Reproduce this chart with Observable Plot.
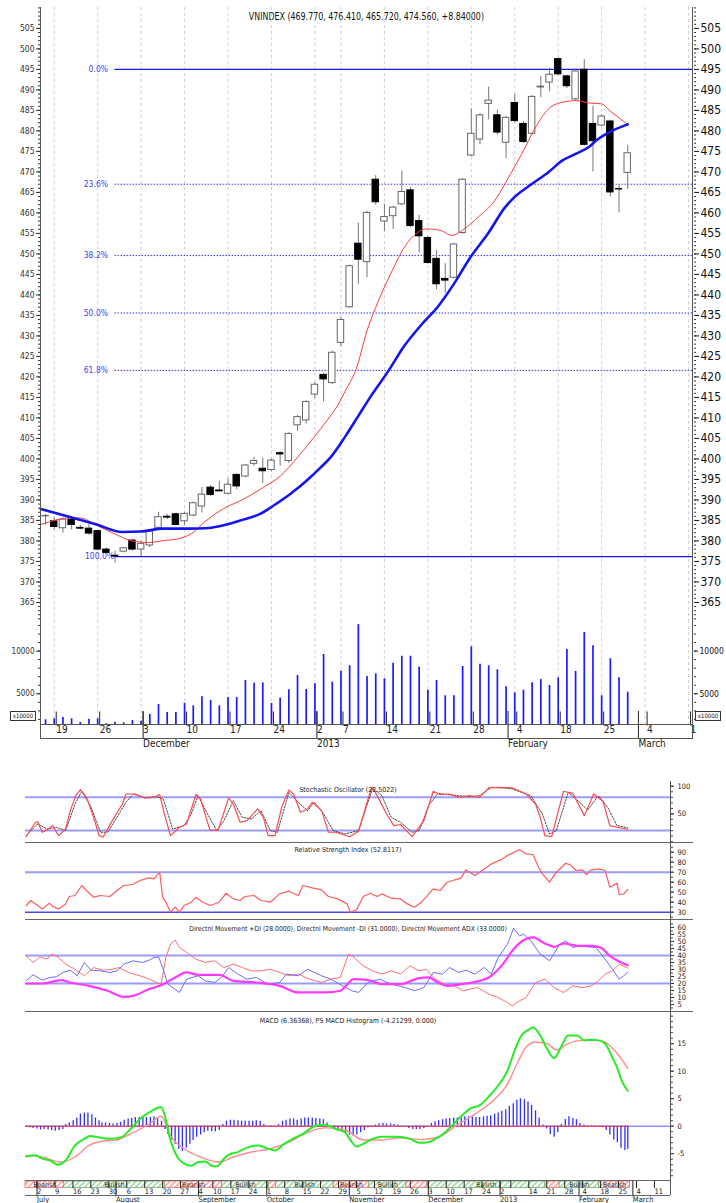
<!DOCTYPE html>
<html><head><meta charset="utf-8">
<script src="https://cdn.jsdelivr.net/npm/d3@7"></script>
<script src="https://cdn.jsdelivr.net/npm/@observablehq/plot@0.6"></script>
<style>
body{margin:0;background:#fff;}
#root{position:relative;width:726px;height:1203px;overflow:hidden;background:#fff;
 font-family:"Liberation Sans Narrow","DejaVu Sans Condensed","Liberation Sans",sans-serif;}
.hl{position:absolute;height:1px;background:#555;}
.vl{position:absolute;width:1px;background:#555;}
.box{position:absolute;border:1px solid #333;font-size:6px;line-height:8px;text-align:center;background:#fff;color:#111;}
#title{position:absolute;top:10px;left:0;width:733px;text-align:center;font-size:11px;color:#111;transform:scaleX(0.8);transform-origin:366px 0;}
</style></head><body><div id="root"><div id="title"></div></div>
<script>
// ---------------- DATA ----------------
const titleText = "VNINDEX (469.770, 476.410, 465.720, 474.560, +8.84000)";
// trading-day index 0 = 16 Nov 2012 ... 67 = 28 Feb 2013
const opens  = [386.0,384.8,383.1,385.2,383.2,383.0,382.4,377.9,376.4,377.4,380.1,377.9,378.9,383.2,385.9,386.5,384.8,386.2,388.4,393.0,392.3,391.5,396.1,395.7,398.8,397.6,397.3,401.4,399.5,408.2,409.4,415.7,420.5,418.5,428.3,437.0,452.5,448.0,468.1,457.9,459.2,462.1,465.5,458.0,453.9,448.8,443.9,444.2,455.1,474.0,477.9,486.6,483.8,477.1,486.8,481.7,479.3,490.6,491.8,497.5,493.3,487.7,494.9,481.7,481.3,482.3,465.8,469.77];
const highs  = [386.4,385.8,385.6,385.7,383.8,384.2,382.6,378.3,377.5,378.5,380.4,380.0,382.6,387.0,386.5,386.8,387.0,389.5,393.1,393.5,394.6,395.2,396.4,398.7,400.4,400.2,400.0,401.8,406.4,410.6,414.2,418.7,420.9,426.3,434.6,447.3,457.5,460.4,469.1,462.1,461.6,470.2,466.2,459.4,454.2,450.8,447.6,452.6,468.4,485.4,484.2,490.7,485.1,483.5,488.9,482.3,488.6,493.3,495.3,497.8,493.6,495.1,497.4,486.0,484.0,482.6,466.8,476.41];
const lows   = [383.8,382.7,381.9,382.7,382.7,381.4,377.6,376.8,374.6,377.1,377.5,376.2,378.4,382.9,385.2,383.6,383.8,385.9,386.8,390.8,392.0,391.3,392.5,395.4,398.2,394.1,397.0,398.2,398.9,406.7,408.5,414.7,413.9,418.2,427.3,436.7,442.6,444.2,461.9,455.5,456.0,461.8,456.4,450.2,447.5,441.3,440.4,443.9,454.8,473.7,476.6,482.7,479.0,473.2,482.0,477.0,479.0,488.1,489.5,493.5,490.3,487.4,476.3,470.0,481.0,463.9,460.0,465.72];
const closes = [386.1,383.4,385.2,383.9,383.0,381.8,377.9,377.1,376.2,378.2,377.9,379.3,382.3,385.8,385.7,383.9,386.6,389.2,391.3,391.2,392.1,393.7,393.3,398.4,399.5,397.0,399.6,401.1,406.1,410.2,413.9,418.1,419.4,425.9,433.9,447.0,448.6,460.0,462.6,459.0,461.3,465.1,456.8,454.3,447.8,442.6,443.5,452.3,468.1,479.3,483.8,487.4,479.6,483.2,482.4,477.3,488.3,490.8,493.7,493.8,490.9,494.5,476.6,477.5,483.5,465.0,465.72,474.56];
const volumes = [1955,2072,2225,2072,1639,2033,2072,1487,1680,1600,1870,1800,2576,3747,2810,2810,3900,3590,4650,4220,3590,4570,4570,6560,6240,6280,3860,4490,5470,7140,5510,6170,9600,6360,7650,8280,13100,7030,7340,6760,8590,9400,9400,8120,5420,6560,4770,4770,8200,10500,8470,8280,7810,5820,5120,5420,6280,6680,5970,6870,10190,7610,12180,10620,4770,9100,6870,5190];
// moving averages: [index, value]
const maRed = [[-0.55,384.0],[2.9,385.6],[4,385.6],[5.9,383.8],[7.9,381.8],[9.8,380.1],[11.9,379.6],[13.6,380.1],[15.2,380.5],[16.8,381.8],[18.4,384.8],[20.5,387.9],[22.7,390.1],[25.1,393.1],[27,395.8],[29,400.4],[30.9,405.3],[32.4,409.4],[33.6,413],[34.6,417],[35.7,421.6],[37,431.3],[38.5,439.5],[40.1,446.8],[41.2,451.3],[42.4,454.5],[43.9,456.1],[45.5,455.7],[46.8,454.5],[48.1,456],[49.8,459],[51.7,463],[53.3,468.7],[54.8,474.4],[56.4,480.9],[57.9,485.4],[59.5,487],[61,487.4],[62.6,486.8],[64,486.6],[64.9,485],[66.1,483],[67,481.6]];
const maBlue = [[-0.55,387.8],[2.9,385.8],[5.9,384.0],[8.8,382.2],[10.9,382.3],[13.6,383.0],[16.7,383.0],[18.4,383.1],[20,383.6],[22.4,385.0],[24.7,386.6],[26.3,388.7],[28.2,391.5],[30.1,394.8],[31.7,398],[32.8,400.4],[34.5,405.5],[36,410.5],[37.5,415.5],[39.5,421.6],[41.2,427.3],[43.2,432.6],[45.1,437],[47,442.7],[48.9,449.2],[50.9,454.9],[52.9,461.4],[54,463.9],[56,467.1],[57.9,470],[59.5,472.8],[61,474.4],[62.6,476.2],[63.4,477.7],[64.9,479.7],[67,481.6]];
const fibLabels = ["0.0%","23.6%","38.2%","50.0%","61.8%","100.0%"];
const fibValues = [495.0,467.0,449.6,435.6,421.6,376.2];
const fibAnchor = 8;
const topTickIdx = [1,6,11,16,21,26,31,34,39,44,49,54,59,64,69,74];
const topTickLabels = ["19","26","3","10","17","24","2","7","14","21","28","4","18","25","4","1"];
const topMonthIdx = [11,31,53,68];
const topMonthLabels = ["December","2013","February","March"];

// lower panels: trading-day index 0 = 2 Jul 2012 ... 165 = 28 Feb 2013
const stochK = [[-2.6,9],[0,35],[0.6,36],[1.9,17],[3.2,21],[4.8,29],[6.4,11],[8.4,23],[9.7,56],[11.2,83],[12.5,94],[14.2,80],[16.2,44],[17.7,11],[18.8,8],[21.4,38],[24.2,68],[25.2,86],[27.8,86],[30.4,79],[33.0,80],[34.6,85],[35.9,50],[37.6,11],[40.1,26],[42.1,32],[44.7,85],[46.0,77],[48.6,21],[50.9,21],[53.8,79],[55.1,68],[57.0,35],[58.9,38],[61.9,59],[63.5,44],[64.8,11],[66.7,11],[68.7,65],[70.6,93],[71.9,86],[73.8,53],[75.8,59],[77.1,71],[79.7,56],[81.6,17],[83.6,17],[87.5,9],[90.0,19],[93.3,91],[93.9,98],[95.9,74],[97.8,50],[99.8,29],[101.7,31],[104.9,9],[108.2,38],[110.8,91],[112.7,85],[115.3,86],[117.9,80],[121.1,83],[123.7,80],[126.3,97],[128.9,98],[132.8,97],[136.7,86],[139.3,68],[140.6,44],[141.9,11],[143.8,9],[147.1,91],[149.7,87],[152.9,47],[155.5,86],[158.1,73],[160.0,29],[162.0,26],[165,22.5]];
const stochD = [[-2.6,11],[0.6,32],[3.2,23],[5.8,26],[8.4,20],[11.0,68],[12.9,91],[15.5,62],[18.1,17],[20.1,17],[22.7,44],[25.2,71],[27.2,86],[30.4,79],[33.7,81],[35.6,77],[38.2,23],[41.4,29],[43.4,50],[45.3,83],[47.9,50],[50.5,20],[52.5,38],[55.1,74],[57.6,44],[60.2,41],[62.8,56],[65.4,20],[67.4,17],[70.6,89],[73.2,71],[75.8,56],[77.7,71],[80.3,50],[82.9,20],[86.2,14],[90.0,20],[93.9,96],[96.5,83],[99.1,44],[101.7,35],[104.9,17],[106.9,20],[109.5,65],[112.1,87],[114.7,85],[117.9,83],[121.1,81],[123.7,83],[127.0,98],[130.2,97],[132.8,95],[138.0,83],[141.2,50],[143.2,14],[145.1,20],[148.4,89],[151.6,71],[153.8,57],[156.8,83],[159.4,62],[162.0,29],[165,25]];
const rsi = [[-2.6,36.7],[-1.3,41.7],[0.6,36.7],[1.9,33.3],[3.9,39],[4.8,35.7],[6.4,33.3],[8.4,38.3],[9.4,45.7],[11.0,46.7],[12.9,56.7],[14.2,51.7],[16.2,45],[18.1,46.7],[20.7,45.7],[22.7,51.7],[24.6,56.7],[27.2,57.7],[29.1,61.7],[31.7,64.3],[33.0,63.3],[34.6,70],[35.4,45],[36.3,40],[37.6,30],[38.9,35],[40.1,30],[41.4,36.7],[43.4,40],[44.7,45],[46.6,40],[48.6,36.7],[51.2,40],[53.1,49],[55.1,43.3],[57.0,41.7],[58.3,45.7],[60.9,46.7],[62.8,41.7],[65.4,40],[68.0,48.3],[70.6,51],[73.2,46.7],[74.5,56.7],[77.1,54.3],[79.7,52.3],[81.6,45.7],[84.2,43.3],[86.8,38.3],[87.7,30],[89.4,32.3],[91.3,45.7],[93.3,49],[95.2,45.7],[96.5,48.3],[99.1,44],[101.7,43.3],[103.6,38.3],[105.6,35],[107.5,40],[108.8,45],[110.8,53.3],[112.7,51.7],[114.7,60],[118.6,64.3],[119.9,72.3],[122.4,66.7],[124.4,71.7],[127.0,78.3],[129.6,82.3],[131.5,86.7],[134.8,92.7],[136.7,88.3],[138.6,87.7],[139.9,76.7],[141.2,68.3],[143.2,60],[145.1,70],[147.7,79],[149.0,77.3],[150.6,71.7],[152.3,72.3],[153.5,67.7],[154.8,72.3],[156.8,73.3],[158.7,71.7],[160.0,55],[162.0,59],[162.6,47.7],[163.9,48.3],[165,52.8]];
const plusDI = [[-2.6,21.9],[-0.7,26.2],[1.9,22.4],[3.9,24.3],[5.8,24.8],[7.7,27.9],[9.7,29.5],[11.6,25.5],[13.6,35],[15.5,29.5],[18.1,29],[20.7,27.9],[22.7,29],[24.6,33.8],[27.2,36.2],[29.8,35],[31.7,36.7],[33.0,38.6],[34.3,39],[35.4,31.4],[36.9,19.5],[40.1,13.6],[42.1,23.1],[45.3,25.5],[47.3,21.9],[49.9,20.7],[51.8,24.3],[53.8,31.4],[56.4,26.7],[58.9,23.1],[61.5,24.3],[64.8,19.5],[68.0,20.7],[69.9,26.7],[73.2,25.5],[75.8,30.2],[79.7,25.5],[82.3,23.1],[85.5,18.3],[88.1,14.8],[90.0,13.6],[92.6,20.7],[95.9,23.1],[99.1,19.5],[103.0,17.1],[105.6,14.8],[108.2,17.1],[110.8,27.9],[113.4,26.7],[115.3,31.4],[117.9,27.9],[119.9,29.5],[122.4,26.7],[125.0,31.4],[127.0,26.7],[128.9,38.6],[130.2,43.3],[131.5,48.1],[133.2,59.5],[134.8,54],[136.0,55.2],[138.0,50.5],[140.6,41],[143.2,36.2],[145.8,46.9],[147.7,50.5],[149.7,45.7],[151.6,46.9],[153.5,46.2],[156.1,45.7],[158.7,37.4],[160.7,30.2],[162.6,23.1],[163.9,25.5],[165,28]];
const minusDI = [[-2.6,39.8],[-0.7,35],[1.3,39],[3.2,37.4],[4.5,41],[6.4,38.6],[8.4,33.8],[11.0,30.2],[13.6,25.5],[16.2,31.4],[18.8,29.5],[21.4,30.2],[23.3,31.4],[25.9,27.9],[29.1,25.5],[31.7,23.1],[33.7,20.7],[35.0,19.5],[36.3,38.6],[37.6,48.1],[38.9,51],[40.1,45.7],[42.1,42.1],[44.7,37.4],[47.3,35],[49.9,36.2],[52.5,31.4],[55.1,33.8],[57.6,31.4],[60.2,29],[62.8,29],[65.4,30.2],[68.0,27.9],[70.6,25.5],[73.2,26.7],[76.4,23.1],[79.7,20.7],[82.3,23.1],[84.9,24.3],[87.2,41],[88.7,38.6],[91.3,32.6],[93.9,29],[96.5,26.7],[99.1,29],[101.7,26.7],[104.3,32.6],[106.9,29],[108.8,30.2],[111.4,23.1],[114.0,19.5],[116.6,18.3],[119.2,14.8],[121.1,16],[123.1,17.1],[126.3,12.4],[128.9,10],[131.5,6.4],[132.8,4.0],[134.8,7.6],[136.7,10],[139.3,20.7],[141.9,23.1],[144.5,17.1],[147.1,13.6],[149.7,18.3],[152.3,17.1],[154.8,18.3],[156.8,21.9],[158.7,26.7],[160.7,29],[162.6,33.8],[165,31]];
const adx = [[-2.6,20],[1.9,20],[7.1,22.4],[9.7,20.7],[14.9,18.3],[20.1,14.8],[24.6,10.5],[27.2,11.2],[31.7,16],[35.6,19.5],[38.9,24.3],[42.1,27.9],[45.3,26.2],[51.2,26.2],[55.1,21.9],[61.5,20.7],[68.0,18.3],[73.2,13.6],[81.0,13.6],[84.9,14.8],[88.7,23.1],[92.6,22.4],[96.5,19.5],[101.7,19.5],[106.9,23.8],[109.5,24.3],[112.1,20.7],[114.7,18.3],[118.6,19.5],[123.7,21.9],[126.3,24.3],[130.2,33.8],[132.8,43.3],[135.4,50],[138.6,52.9],[141.9,48.6],[144.5,46.2],[147.1,48.6],[150.9,46.9],[154.8,46.9],[157.4,45.7],[160.0,39.8],[162.6,35.7],[165,33]];
const macd = [[-2.6,-5.5],[0,-5.3],[1.9,-5.9],[3.9,-6.2],[6.4,-7.0],[8.4,-6.2],[11.0,-3.5],[13.6,-2.3],[15.1,-1.8],[17.5,-2.0],[20.7,-2.3],[23.9,-2.0],[26.5,-0.5],[29.1,1.3],[31.7,2.5],[35.0,3.5],[35.9,2.2],[37.6,-2.6],[39.5,-5.6],[41.4,-6.8],[43.4,-7.2],[45.3,-6.5],[47.3,-6.4],[49.2,-7.2],[50.5,-7.3],[52.5,-5.9],[53.8,-5.2],[56.4,-4.7],[58.9,-3.9],[62.2,-3.5],[64.8,-4.1],[66.7,-4.4],[69.3,-3.2],[71.9,-2.2],[74.5,-1.4],[77.1,-0.2],[79.7,0.2],[81.6,0.1],[83.6,-0.5],[86.2,-1.1],[87.5,-2.3],[89.4,-3.7],[91.3,-3.2],[93.9,-2.3],[96.5,-1.9],[100.4,-1.9],[104.3,-2.3],[106.9,-3.0],[109.5,-2.9],[111.4,-2.3],[113.4,-1.5],[116.0,0.1],[118.6,1.8],[121.1,3.2],[123.7,3.8],[126.3,5.4],[128.9,7.4],[131.5,10.1],[133.5,13.8],[135.4,16.5],[137.3,17.5],[138.6,18.0],[140.6,16.5],[142.5,14.1],[144.5,12.4],[146.4,14.4],[148.4,16.5],[150.9,16.5],[152.9,15.6],[154.8,15.7],[156.8,15.6],[158.7,15.0],[160.7,12.5],[162.0,10.7],[163.3,8.3],[165,6.4]];
const macdSignal = [[-2.6,-5.3],[1.9,-5.6],[7.1,-6.5],[11.0,-5.6],[14.9,-3.5],[18.8,-2.7],[22.7,-2.5],[26.5,-1.4],[31.7,0.4],[35.0,1.8],[37.6,-1.7],[41.4,-4.1],[46.0,-5.6],[51.2,-6.5],[55.1,-5.6],[60.2,-4.7],[65.4,-4.1],[70.6,-2.9],[75.8,-1.1],[81.0,-0.3],[86.2,-0.7],[91.3,-2.5],[96.5,-2.5],[101.7,-2.1],[106.9,-2.4],[112.1,-2.0],[117.2,0.1],[122.4,2.2],[127.6,4.7],[131.5,7.7],[134.1,11.3],[136.7,14.4],[139.3,15.3],[142.5,15.0],[145.1,13.9],[148.4,15.0],[152.3,15.6],[156.8,15.6],[158.7,15.3],[161.3,13.8],[165,10.5]];
const macdHist = [[-2.6,-0.2],[-1.6,-0.3],[-0.7,-0.4],[0.4,-0.5],[1.4,-0.7],[2.4,-0.6],[3.5,-0.7],[4.5,-0.8],[5.5,-0.9],[6.6,-0.8],[7.6,-0.6],[8.4,0.3],[9.4,0.6],[10.5,1.0],[11.5,1.5],[12.5,2.2],[13.6,2.4],[14.6,2.4],[15.7,2.1],[16.7,1.5],[17.7,1.0],[18.5,0.6],[19.5,0.6],[20.6,0.5],[21.6,0.4],[22.7,0.5],[23.7,0.7],[24.7,1.1],[25.8,1.3],[26.8,1.4],[27.8,1.6],[28.9,1.6],[29.9,1.6],[30.9,1.6],[32,1.6],[33,1.7],[34,1.5],[35.1,0.9],[36.1,-0.6],[36.9,-1.5],[37.9,-2.5],[38.9,-3.3],[39.9,-4.2],[40.9,-4.6],[42,-4.0],[43,-3.3],[43.9,-2.6],[44.9,-2.0],[46,-1.6],[47,-1.2],[48,-0.9],[49.1,-1.0],[50.1,-1.0],[51.2,-0.8],[52.2,0.3],[53.2,0.9],[54.3,1.1],[55.3,1.1],[56.4,1.0],[57.4,0.9],[58.4,0.9],[59.5,0.9],[60.5,0.9],[61.5,1.0],[62.6,0.9],[63.6,0.3],[64.6,0.05],[65.7,-0.1],[66.7,-0.2],[67.7,0.3],[68.8,0.9],[69.8,1.1],[70.9,1.3],[71.9,1.3],[72.9,1.1],[74,1.3],[75,1.5],[76,1.5],[77.1,1.5],[78.1,1.4],[79.2,1.3],[80.2,1.2],[81.2,0.6],[82.3,-0.2],[83.3,-0.4],[84.3,-0.6],[85.4,-0.8],[86.4,-1.2],[87.5,-1.6],[88.5,-1.8],[89.5,-1.6],[90.6,-1.2],[91.6,-0.8],[92.6,-0.3],[93.7,0.1],[94.7,0.2],[95.7,0.4],[96.8,0.5],[97.8,0.4],[98.9,0.4],[99.9,0.3],[100.9,0.2],[102,0.1],[103,-0.1],[104,-0.4],[105.1,-0.6],[106.1,-0.6],[107.1,-0.6],[108.2,-0.4],[109.2,0.05],[110.3,0.5],[111.3,0.8],[112.3,1.0],[113.4,1.2],[114.4,1.3],[115.4,1.4],[116.5,1.5],[117.5,1.5],[118.6,1.5],[119.6,1.7],[120.6,1.7],[121.7,1.7],[122.7,1.6],[123.7,1.6],[124.8,1.7],[125.8,1.8],[126.8,1.9],[127.9,2.2],[128.9,2.4],[129.9,2.7],[131,3.0],[132,3.6],[133.1,4.1],[134.1,4.7],[135.1,5.0],[136.2,4.8],[137.2,4.4],[138.2,3.8],[139.3,2.8],[140.3,1.5],[141.4,0.2],[142.4,-0.5],[143.4,-1.5],[144.5,-2.0],[145.5,-1.2],[146.5,0.3],[147.6,1.2],[148.6,1.7],[149.7,1.4],[150.7,1.2],[151.7,0.5],[152.8,0.2],[153.8,0.1],[154.8,0.1],[155.9,0.1],[156.9,0.05],[157.9,-0.3],[159,-0.8],[160,-1.6],[161.1,-2.5],[162.1,-3.0],[163.1,-4.0],[164.2,-4.4],[165,-4.2]];
const trendSegments = [[-2.79,8,"bear","Bearish"],[8,36,"bull","Bullish"],[36,52,"bear","Bearish"],[52,65,"bull","Bullish"],[65,67,"bear",""],[67,83,"bull","Bullish"],[83,93,"bear","Bearish"],[93,103.3,"bull","Bullish"],[103.3,109.2,"bear",""],[109.2,142,"bull","Bullish"],[142,146,"bear",""],[146,157,"bull","Bullish"],[157,165.6,"bear","Bearish"]];
const lowTickDays = [0,5,10,15,20,25,30,35,40,45,49,54,59,64,69,74,79,84,89,94,99,104,109,114,119,124,129,132,137,142,147,152,157,162,167,172];
const lowTickLabels = ["2","9","16","23","30","6","13","20","27","4","10","17","24","1","8","15","22","29","5","12","19","26","3","10","17","24","2","","14","21","28","4","18","25","4","11"];
const lowMonthDays = [0,22,45,64,87,109,129,151,166];
const lowMonthLabels = ["July","August","September","October","November","December","2013","February","March"];

// ---------------- LAYOUT ----------------
const FONT = '"Liberation Sans Narrow","DejaVu Sans Condensed","Liberation Sans",sans-serif';
const root = document.getElementById("root");
document.getElementById("title").textContent = titleText;
const baseStyle = {background: "transparent", fontFamily: FONT, overflow: "visible", fontSize: "9px"};
const plain = d => String(d);
function place(svg, top) {
  svg.style.position = "absolute"; svg.style.left = "0px"; svg.style.top = top + "px";
  svg.style.maxWidth = "none";
  root.appendChild(svg);
}
function line(cls, l, t, w, h, color) {
  const d = document.createElement("div"); d.className = cls;
  d.style.left = l + "px"; d.style.top = t + "px";
  if (w != null) d.style.width = w + "px"; if (h != null) d.style.height = h + "px";
  if (color) d.style.background = color;
  root.appendChild(d);
}

const candles = opens.map((o, i) => ({i, o, h: highs[i], l: lows[i], c: closes[i], v: volumes[i]}));
const fib = fibValues.map((v, k) => ({v, label: fibLabels[k], solid: k === 0 || k === fibValues.length - 1, last: k === fibValues.length - 1}));
const xTopDomain = [-0.58, 74.57];
const topLabelMap = new Map(topTickIdx.map((d, k) => [d, topTickLabels[k]]));
const topMonthMap = new Map(topMonthIdx.map((d, k) => [d, topMonthLabels[k]]));

// price panel
const priceSvg = Plot.plot({
  width: 726, height: 620, marginLeft: 40, marginRight: 33, marginTop: 7, marginBottom: 0,
  style: baseStyle,
  x: {domain: xTopDomain, axis: null},
  y: {domain: [360.6, 510.1], axis: null},
  marks: [
    Plot.ruleX(topTickIdx, {stroke: "#c4c4c4", strokeDasharray: "3,3", strokeWidth: 0.8}),
    Plot.ruleY(fib.filter(d => d.solid), {y: "v", x1: fibAnchor, x2: xTopDomain[1], stroke: "#1515ff", strokeWidth: 1.2}),
    Plot.ruleY(fib.filter(d => !d.solid), {y: "v", x1: fibAnchor, x2: xTopDomain[1], stroke: "#3a3aff", strokeWidth: 1, strokeDasharray: "1.5,1.5"}),
    Plot.text(fib.filter(d => !d.last), {x: fibAnchor, y: "v", text: "label", textAnchor: "end", dx: -7, fill: "#4040ff", fontSize: 8.5}),
    Plot.text(fib.filter(d => d.last), {x: fibAnchor, y: "v", text: "label", textAnchor: "end", dx: -1, fill: "#4040ff", fontSize: 8.5}),
    Plot.ruleX(candles, {x: "i", y1: "l", y2: "h", stroke: "#777", strokeWidth: 1}),
    Plot.rect(candles, {x1: d => d.i - 0.37, x2: d => d.i + 0.37, y1: "o", y2: "c",
      fill: d => d.c >= d.o ? "#ffffff" : "#000000", stroke: d => d.c >= d.o ? "#666" : "#000", strokeWidth: 1}),
    Plot.line(maRed, {x: d => d[0], y: d => d[1], stroke: "#ff3a3a", strokeWidth: 1, curve: "monotone-x"}),
    Plot.line(maBlue, {x: d => d[0], y: d => d[1], stroke: "#1414ee", strokeWidth: 2.6, curve: "monotone-x"}),
    Plot.axisY({anchor: "left", ticks: d3.range(365, 510, 5), tickSize: 4, tickPadding: 2, fontSize: 8.5, color: "#333", label: null, tickFormat: plain}),
    Plot.axisY({anchor: "left", ticks: d3.range(361, 511, 1), tickSize: 2, tickFormat: () => "", color: "#333", label: null}),
    Plot.axisY({anchor: "right", ticks: d3.range(365, 510, 5), tickSize: 5, tickPadding: 2, fontSize: 12, color: "#111", label: null, tickFormat: plain}),
    Plot.axisY({anchor: "right", ticks: d3.range(361, 511, 1), tickSize: 2, tickFormat: () => "", color: "#333", label: null})
  ]
});
place(priceSvg, 0);

// volume panel
const VMIN = 1405;
const volSvg = Plot.plot({
  width: 726, height: 132, marginLeft: 40, marginRight: 33, marginTop: 0, marginBottom: 28,
  style: baseStyle,
  x: {domain: xTopDomain, axis: null},
  y: {domain: [VMIN, 13583], axis: null},
  marks: [
    Plot.ruleX(topTickIdx, {stroke: "#c4c4c4", strokeDasharray: "3,3", strokeWidth: 0.8}),
    Plot.ruleX(candles, {x: "i", y1: VMIN, y2: "v", stroke: "#1a1aff", strokeWidth: 1.7}),
    Plot.axisY({anchor: "left", ticks: [5000, 10000], tickSize: 4, tickPadding: 2, fontSize: 8, color: "#333", label: null, tickFormat: plain}),
    Plot.axisY({anchor: "left", ticks: d3.range(2000, 13001, 1000), tickSize: 2, tickFormat: () => "", color: "#333", label: null}),
    Plot.axisY({anchor: "right", ticks: [5000, 10000], tickSize: 4, tickPadding: 2, fontSize: 8.5, color: "#111", label: null, tickFormat: plain}),
    Plot.axisY({anchor: "right", ticks: d3.range(2000, 13001, 1000), tickSize: 2, tickFormat: () => "", color: "#333", label: null}),
    Plot.axisX({anchor: "bottom", ticks: topTickIdx, tickSize: 14, tickPadding: 0, tickFormat: d => topLabelMap.get(d),
      textAnchor: "start", dx: 2, dy: -12.5, fontSize: 10, color: "#222", label: null}),
    Plot.axisX({anchor: "bottom", ticks: topMonthIdx, tickSize: 28, tickPadding: 0, tickFormat: d => topMonthMap.get(d),
      textAnchor: "start", dx: 2, dy: -13, fontSize: 10, color: "#222", label: null})
  ]
});
place(volSvg, 620);

// frame lines of the top chart
line("vl", 40, 7, null, 731);
line("vl", 692, 7, null, 731);
line("hl", 40, 724, 653, null);
line("hl", 40, 738, 653, null);
const b1 = document.createElement("div"); b1.className = "box"; b1.style.left = "10px"; b1.style.top = "711px"; b1.style.width = "24px"; b1.style.height = "8px"; b1.textContent = "x10000"; root.appendChild(b1);
const b2 = document.createElement("div"); b2.className = "box"; b2.style.left = "695px"; b2.style.top = "711px"; b2.style.width = "24px"; b2.style.height = "8px"; b2.textContent = "x10000"; root.appendChild(b2);

// lower panels
const xLowDomain = [-2.79, 176.9];
function lower(top, height, yDomain, marks) {
  const svg = Plot.plot({
    width: 726, height, marginLeft: 25, marginRight: 56, marginTop: 0, marginBottom: 0,
    style: baseStyle,
    x: {domain: xLowDomain, axis: null},
    y: {domain: yDomain, axis: null},
    marks
  });
  place(svg, top);
  return svg;
}
const P = d => d[0], V = d => d[1];
const refLine = {stroke: "#9c9cff", strokeWidth: 2};
function rAxis(ticks, minor) {
  return [
    Plot.axisY({anchor: "right", ticks, tickSize: 3, tickPadding: 4, fontSize: 7.5, color: "#222", label: null, tickFormat: plain}),
    Plot.axisY({anchor: "right", ticks: minor, tickSize: 2, tickFormat: () => "", color: "#444", label: null})
  ];
}
lower(781, 61, [-1.44, 108.5], [
  Plot.ruleY([80, 20], refLine),
  Plot.line(stochD, {x: P, y: V, stroke: "#333", strokeWidth: 0.9, strokeDasharray: "1.5,1.5"}),
  Plot.line(stochK, {x: P, y: V, stroke: "#ff4a4a", strokeWidth: 1.2}),
  Plot.text(["Stochastic Oscillator (22.5022)"], {frameAnchor: "top", dy: 6, fontSize: 7, fill: "#222"}),
  ...rAxis([50, 100], d3.range(0, 108, 10))
]);
lower(842, 77, [22.7, 99.7], [
  Plot.ruleY([70], refLine),
  Plot.ruleY([30], {stroke: "#4848f0", strokeWidth: 1.4}),
  Plot.line(rsi, {x: P, y: V, stroke: "#ff5c5c", strokeWidth: 1.2}),
  Plot.text(["Relative Strength Index (52.8117)"], {frameAnchor: "top", dy: 5, fontSize: 7, fill: "#222"}),
  ...rAxis(d3.range(30, 91, 10), d3.range(25, 99, 5))
]);
lower(919, 92, [0, 65.7], [
  Plot.ruleY([40, 20], refLine),
  Plot.line(minusDI, {x: P, y: V, stroke: "#ff6e6e", strokeWidth: 1}),
  Plot.line(plusDI, {x: P, y: V, stroke: "#6c6cff", strokeWidth: 1}),
  Plot.line(adx, {x: P, y: V, stroke: "#ff38ff", strokeWidth: 2.2, curve: "monotone-x"}),
  Plot.text(["Directnl Movement +DI (28.0000), Directnl Movement -DI (31.0000), Directnl Movement ADX (33.0000)"], {frameAnchor: "top", dy: 6.5, fontSize: 6.8, fill: "#222"}),
  ...rAxis(d3.range(5, 61, 5), d3.range(2.5, 65, 2.5))
]);
lower(1011, 169, [-9.87, 20.85], [
  Plot.ruleY([0], {stroke: "#5a5aff", strokeWidth: 1}),
  Plot.ruleX(macdHist, {x: P, y1: 0, y2: V, stroke: "#2f2fff", strokeWidth: 1.3}),
  Plot.ruleY([0], {x1: xLowDomain[0], x2: 165, stroke: "#ff3030", strokeWidth: 1}),
  Plot.line(macdSignal, {x: P, y: V, stroke: "#ff8c8c", strokeWidth: 1.4, curve: "monotone-x"}),
  Plot.line(macd, {x: P, y: V, stroke: "#28ec28", strokeWidth: 2, curve: "monotone-x"}),
  Plot.text(["MACD (6.36368), PS MACD Histogram (-4.21299, 0.000)"], {frameAnchor: "top", dy: 6.3, fontSize: 7, fill: "#222"}),
  ...rAxis([-5, 0, 5, 10, 15], d3.range(-9, 21, 1))
]);

// trend band + lower date axis
const segs = trendSegments.map(([s, e, t, label]) => ({s, e, t, label, m: (s + e) / 2}));
const lowLabelMap = new Map(lowTickDays.map((d, k) => [d, lowTickLabels[k]]));
const lowMonthMap = new Map(lowMonthDays.map((d, k) => [d, lowMonthLabels[k]]));
const bandSvg = Plot.plot({
  width: 726, height: 23, marginLeft: 25, marginRight: 56, marginTop: 1, marginBottom: 15.5,
  style: baseStyle,
  x: {domain: xLowDomain, axis: null},
  y: {domain: [0, 1], axis: null},
  marks: [
    Plot.rect(segs.filter(d => d.t === "bear"), {x1: "s", x2: "e", y1: 0, y2: 1, fill: "url(#hBear)", stroke: "#e07070", strokeWidth: 0.8}),
    Plot.rect(segs.filter(d => d.t === "bull"), {x1: "s", x2: "e", y1: 0, y2: 1, fill: "url(#hBull)", stroke: "#70b070", strokeWidth: 0.8}),
    Plot.text(segs, {x: "m", y: 0.5, text: "label", fontSize: 6.8, fill: "#333"}),
    Plot.axisX({anchor: "bottom", ticks: lowTickDays, tickSize: 8, tickPadding: 0, tickFormat: d => lowLabelMap.get(d),
      textAnchor: "start", dx: 1.5, dy: -7.5, fontSize: 7.5, color: "#222", label: null}),
    Plot.axisX({anchor: "bottom", ticks: lowMonthDays, tickSize: 15.5, tickPadding: 0, tickFormat: d => lowMonthMap.get(d),
      textAnchor: "start", dx: 1.5, dy: -6.5, fontSize: 7.5, color: "#222", label: null})
  ]
});
bandSvg.insertAdjacentHTML("afterbegin",
  '<defs><pattern id="hBear" patternUnits="userSpaceOnUse" width="4" height="4" patternTransform="rotate(45)">' +
  '<rect width="4" height="4" fill="#fff"/><line x1="1" y1="0" x2="1" y2="4" stroke="#ff8080" stroke-width="1.3"/></pattern>' +
  '<pattern id="hBull" patternUnits="userSpaceOnUse" width="4" height="4" patternTransform="rotate(45)">' +
  '<rect width="4" height="4" fill="#fff"/><line x1="1" y1="0" x2="1" y2="4" stroke="#8cc88c" stroke-width="1.3"/></pattern></defs>');
place(bandSvg, 1180);

// separators of the lower panels
line("hl", 25, 842, 668, null, "#666");
line("hl", 25, 919, 668, null, "#666");
line("hl", 25, 1011, 668, null, "#666");
line("hl", 25, 1180, 645, null, "#666");
line("hl", 25, 1195, 645, null, "#666");
line("vl", 670, 781, null, 414, "#555");
</script></body></html>
